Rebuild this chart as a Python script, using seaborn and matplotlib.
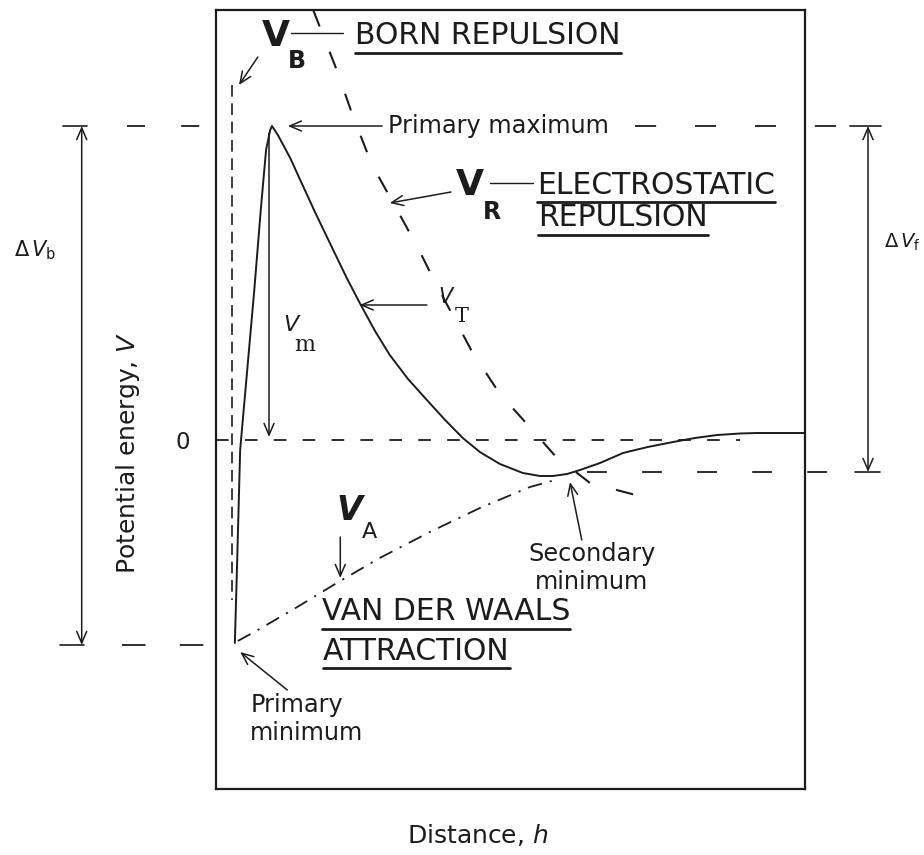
import matplotlib
matplotlib.use("Agg")
import matplotlib.pyplot as plt
import seaborn as sns

# ---------------- data (distance h in arbitrary units, potential energy V) ----------------
# total interaction energy V_T
vt_h = [0.32, 0.36, 0.41, 0.53, 0.65, 0.76, 0.85, 0.92, 0.95, 1.05, 1.26, 1.43, 1.68,
        1.99, 2.22, 2.45, 2.70, 2.95, 3.26, 3.58, 3.89, 4.19, 4.48, 4.82, 5.21, 5.50,
        5.72, 5.96, 6.18, 6.52, 6.91, 7.33, 7.76, 8.13, 8.51, 8.90, 9.19, 10.0]
vt_v = [-2.03, -1.20, -0.10, 0.70, 1.50, 2.30, 2.90, 3.10, 3.14, 3.05, 2.82, 2.60, 2.28,
        1.90, 1.62, 1.36, 1.09, 0.85, 0.61, 0.40, 0.20, 0.02, -0.12, -0.24, -0.33, -0.36,
        -0.36, -0.34, -0.30, -0.23, -0.13, -0.07, -0.02, 0.02, 0.05, 0.065, 0.07, 0.07]
# electrostatic repulsion V_R
vr_h = [1.65, 1.77, 2.05, 2.33, 2.65, 3.01, 3.43, 3.70, 4.35, 4.82, 5.25, 5.76, 6.35, 7.06, 7.28]
vr_v = [4.30, 4.12, 3.70, 3.23, 2.75, 2.37, 1.92, 1.60, 0.88, 0.46, 0.18, -0.16, -0.43, -0.54, -0.57]
# van der Waals attraction V_A
va_h = [0.37, 0.71, 1.38, 2.05, 2.78, 3.63, 4.48, 5.33, 5.70]
va_v = [-2.01, -1.90, -1.67, -1.43, -1.18, -0.92, -0.68, -0.47, -0.41]
# Born repulsion V_B
vb_h = [0.27, 0.27]
vb_v = [3.55, -1.60]

# characteristic levels
v_primary_max = 3.14
v_secondary_min = -0.32
v_primary_min = -2.05
y_ticks = [0]
y_tick_labels = ["0"]

# ---------------- style ----------------
sns.set_theme(style="white")
plt.rcParams["font.family"] = ["DejaVu Sans"]
INK = "#1c1c1c"

fig = plt.figure(figsize=(9.24, 8.55), dpi=100)
fig.patch.set_facecolor("white")
ax = fig.add_axes([216 / 924, 1 - 789 / 855, 589 / 924, 779 / 855])
ax.set_facecolor("white")

sns.lineplot(x=vt_h, y=vt_v, ax=ax, color=INK, lw=1.4, estimator=None, sort=False)
sns.lineplot(x=vr_h, y=vr_v, ax=ax, color=INK, lw=1.5, estimator=None, sort=False,
             linestyle=(0, (8.5, 13)))
sns.lineplot(x=va_h, y=va_v, ax=ax, color=INK, lw=1.3, estimator=None, sort=False,
             linestyle=(0, (8, 4.5, 1.2, 4.5)))
sns.lineplot(x=vb_h, y=vb_v, ax=ax, color=INK, lw=1.2, estimator=None, sort=False,
             linestyle=(0, (7, 4)))

ax.set_xlim(0, 10)
ax.set_ylim(-3.49, 4.30)
ax.set_xticks([])
ax.set_yticks(y_ticks)
ax.set_yticklabels(y_tick_labels)
ax.tick_params(axis="y", length=0, pad=19, labelsize=16.5, labelcolor=INK)
for s in ax.spines.values():
    s.set_visible(True)
    s.set_color(INK)
    s.set_linewidth(1.6)

# reference level lines
ref_dash = (0, (11.7, 21.5))
ax.plot([0, 8.9], [0, 0], color=INK, lw=1.3, linestyle=(0, (7, 9)))
ax.plot([-1.51, -0.10], [v_primary_max] * 2, color=INK, lw=1.3, linestyle=(0, (10, 20)), clip_on=False)
ax.plot([7.11, 10.76], [v_primary_max] * 2, color=INK, lw=1.3, linestyle=ref_dash, clip_on=False)
ax.plot([6.30, 10.76], [v_secondary_min] * 2, color=INK, lw=1.3, linestyle=(0, (11, 19.5)), clip_on=False)
ax.plot([-1.60, -0.12], [v_primary_min] * 2, color=INK, lw=1.3, linestyle=(0, (13, 19)), clip_on=False)

arrow = dict(arrowstyle="->,head_length=0.7,head_width=0.3", color=INK, lw=1.1, shrinkA=0, shrinkB=0)
darrow = dict(arrowstyle="<->,head_length=0.7,head_width=0.3", color=INK, lw=1.1, shrinkA=0, shrinkB=0)

small = dict(fontsize=17.3, color=INK)

# Delta V_b (left) and Delta V_f (right)
ax.annotate("", xy=(-2.28, v_primary_max), xytext=(-2.28, v_primary_min), arrowprops=darrow,
            annotation_clip=False)
ax.plot([-2.60, -2.19], [v_primary_max] * 2, color=INK, lw=1.2, clip_on=False)
ax.plot([-2.65, -2.24], [v_primary_min] * 2, color=INK, lw=1.2, clip_on=False)
ax.text(-3.07, 1.90, r"$\Delta\,V_{\mathsf{b}}$", fontsize=15, color=INK, ha="center", va="center")

ax.annotate("", xy=(11.07, v_primary_max), xytext=(11.07, v_secondary_min), arrowprops=darrow,
            annotation_clip=False)
ax.plot([10.76, 11.29], [v_primary_max] * 2, color=INK, lw=1.2, clip_on=False)
ax.plot([10.85, 11.27], [v_secondary_min] * 2, color=INK, lw=1.2, clip_on=False)
ax.text(11.34, 1.98, r"$\Delta\,V_{\mathsf{f}}$", fontsize=14, color=INK, ha="left", va="center")

# V_m
ax.annotate("", xy=(0.90, 0.03), xytext=(0.90, 3.07), arrowprops=arrow)
ax.text(1.15, 1.15, "V", fontsize=16, style="italic", color=INK, ha="left", va="center")
ax.text(1.33, 0.95, "m", fontsize=16, family="DejaVu Serif", color=INK, ha="left", va="center")

# V_T
ax.annotate("", xy=(2.44, 1.35), xytext=(3.58, 1.35), arrowprops=arrow)
ax.text(3.78, 1.43, "V", fontsize=15, style="italic", color=INK, ha="left", va="center")
ax.text(4.06, 1.23, "T", fontsize=15, family="DejaVu Serif", color=INK, ha="left", va="center")

# Primary maximum
ax.annotate("", xy=(1.22, v_primary_max), xytext=(2.82, v_primary_max), arrowprops=arrow)
ax.text(2.92, v_primary_max, "Primary maximum", ha="left", va="center", **small)

# Secondary / primary minimum
ax.annotate("", xy=(6.01, -0.42), xytext=(6.21, -1.00), arrowprops=arrow)
ax.text(6.38, -1.28, "Secondary\nminimum", ha="center", va="center", linespacing=1.2, **small)
ax.annotate("", xy=(0.41, -2.12), xytext=(1.21, -2.50), arrowprops=arrow, annotation_clip=False)
ax.text(0.58, -2.79, "Primary\nminimum", ha="left", va="center", linespacing=1.2, **small)

# hand-lettered labels
hand = dict(fontsize=21.5, color=INK, ha="left", va="center")

# V_B
vB = ax.text(0.77, 4.04, "V", fontsize=26, fontweight="bold", color=INK, ha="left", va="center")
ax.annotate("", xy=(0.39, 3.55), xytext=(0.71, 3.83), arrowprops=arrow)
ax.plot([1.27, 2.16], [4.07, 4.07], color=INK, lw=1.0)
t_born = ax.text(2.36, 4.04, "BORN REPULSION", **hand)

# V_R
vR = ax.text(4.07, 2.55, "V", fontsize=26, fontweight="bold", color=INK, ha="left", va="center")
ax.annotate("", xy=(2.95, 2.37), xytext=(3.99, 2.48), arrowprops=arrow)
ax.plot([4.65, 5.38], [2.57, 2.57], color=INK, lw=1.0)
t_el = ax.text(5.45, 2.55, "ELECTROSTATIC", **hand)
t_rep = ax.text(5.47, 2.22, "REPULSION", **hand)

# V_A
vA = ax.text(2.05, -0.70, "V", fontsize=24, fontweight="bold", style="italic", color=INK,
             ha="left", va="center")
ax.annotate("", xy=(2.11, -1.38), xytext=(2.11, -0.97), arrowprops=arrow)
t_vdw = ax.text(1.80, -1.72, "VAN DER WAALS", **hand)
t_att = ax.text(1.82, -2.11, "ATTRACTION", **hand)

# axis labels
ax.text(-1.49, -0.13, "Potential energy, $V$", fontsize=18, color=INK, rotation=90,
        ha="center", va="center")
ax.text(4.45, -3.95, "Distance, $h$", fontsize=18, color=INK, ha="center", va="center")

# subscripts placed right after their big letters, underlines from rendered extents
fig.canvas.draw()
r = fig.canvas.get_renderer()
inv = ax.transData.inverted()
for big, letter, y_sub, kw in [(vB, "B", 3.79, dict(fontsize=17, fontweight="bold")),
                               (vR, "R", 2.28, dict(fontsize=17, fontweight="bold")),
                               (vA, "A", -0.92, dict(fontsize=16))]:
    bb = big.get_window_extent(r)
    xs, _ = inv.transform((bb.x1 - 1, bb.y0))
    ax.text(xs, y_sub, letter, color=INK, ha="left", va="center", **kw)

for t in [t_born, t_el, t_rep, t_vdw, t_att]:
    bb = t.get_window_extent(r)
    (x0, y0), (x1, _) = inv.transform([(bb.x0, bb.y0 - 3), (bb.x1, bb.y0 - 3)])
    ax.plot([x0, x1], [y0, y0], color=INK, lw=2.0, clip_on=False)

fig.savefig("out.png", dpi=100, facecolor="white")
